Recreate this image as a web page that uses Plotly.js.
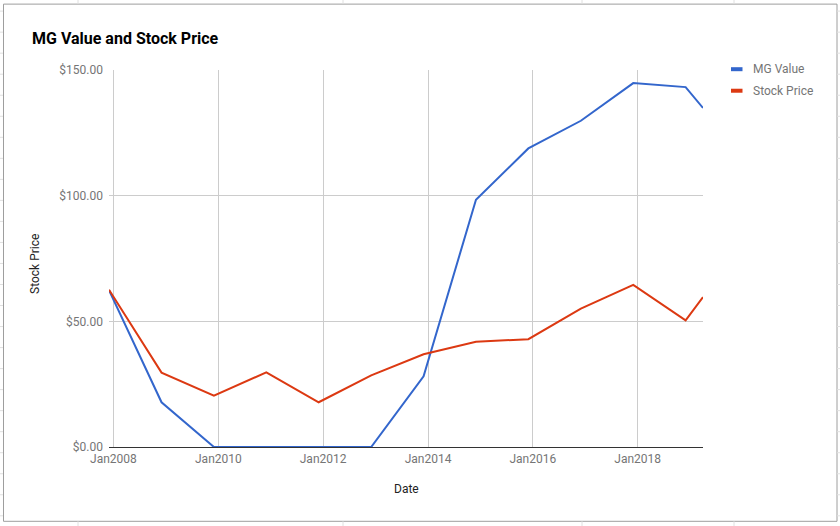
<!DOCTYPE html>
<html>
<head>
<meta charset="utf-8">
<script src="https://cdn.plot.ly/plotly-3.0.1.min.js"></script>
<style>
html,body{margin:0;padding:0;background:#fff;}
#chart{width:840px;height:526px;}
</style>
</head>
<body>
<div id="chart"></div>
<script>
// ---- data ----
const dates = ['2007-12-01','2008-12-01','2009-12-01','2010-12-01','2011-12-01','2012-12-01',
  '2013-12-01','2014-12-01','2015-12-01','2016-12-01','2017-12-01','2018-12-01','2019-04-01'];
const mgValue = [62.4, 17.8, 0, 0, 0, 0, 28.1, 98.4, 118.8, 129.8, 144.8, 143.2, 134.9];
const stockPrice = [62.6, 29.6, 20.4, 29.7, 17.8, 28.5, 36.9, 41.9, 42.9, 55.1, 64.5, 50.4, 59.6];
const seriesNames = ['MG Value', 'Stock Price'];
const seriesColors = ['#3366cc', '#dc3912'];
const yTickVals = [0, 50, 100, 150];
const yTickLabels = ['$0.00', '$50.00', '$100.00', '$150.00'];
const titleText = 'MG Value and Stock Price';
const xTitle = 'Date';
const yTitle = 'Stock Price';

// ---- geometry helpers (pixel -> paper) ----
const W = 840, H = 526;
const L = 109, R = 703, T = 70.3, B = 446.8;
const px = x => (x - L) / (R - L);
const py = y => (B - y) / (B - T);

const shapes = [];
// spreadsheet grid outside the chart frame
const sheetLine = '#e0e0e0';
[78, 343, 582, 734].forEach(x => {
  shapes.push({type:'line', xref:'paper', yref:'paper', x0:px(x), x1:px(x), y0:py(0), y1:py(4), line:{color:sheetLine, width:1}});
  shapes.push({type:'line', xref:'paper', yref:'paper', x0:px(x), x1:px(x), y0:py(521), y1:py(526), line:{color:sheetLine, width:1}});
});
for (let y = 11.5; y < H; y += 21) {
  shapes.push({type:'line', xref:'paper', yref:'paper', x0:px(0), x1:px(3), y0:py(y), y1:py(y), line:{color:sheetLine, width:1}});
  shapes.push({type:'line', xref:'paper', yref:'paper', x0:px(837), x1:px(840), y0:py(y), y1:py(y), line:{color:sheetLine, width:1}});
}
// chart frame
shapes.push({type:'rect', xref:'paper', yref:'paper', x0:px(3.5), x1:px(837), y0:py(4.5), y1:py(521), line:{color:'#9e9e9e', width:1}, layer:'below'});

// legend
const annotations = [];
const legY = [69.5, 91];
seriesNames.forEach((n, i) => {
  shapes.push({type:'line', xref:'paper', yref:'paper', x0:px(731), x1:px(742.5), y0:py(legY[i]), y1:py(legY[i]), line:{color:seriesColors[i], width:4}});
  annotations.push({xref:'paper', yref:'paper', x:px(751), y:py(legY[i]), xanchor:'left', yanchor:'middle', showarrow:false, text:n, font:{family:'Roboto', size:12, color:'#757575'}});
});
// title and axis titles
annotations.push({xref:'paper', yref:'paper', x:px(30), y:py(38.5), xanchor:'left', yanchor:'middle', showarrow:false, text:'<b>' + titleText + '</b>', font:{family:'Roboto', size:16, color:'#000'}});
annotations.push({xref:'paper', yref:'paper', x:px(406), y:py(489), xanchor:'center', yanchor:'middle', showarrow:false, text:xTitle, font:{family:'Roboto', size:12, color:'#222'}});
annotations.push({xref:'paper', yref:'paper', x:px(35), y:py(264), xanchor:'center', yanchor:'middle', textangle:-90, showarrow:false, text:yTitle, font:{family:'Roboto', size:12, color:'#222'}});

const traces = [mgValue, stockPrice].map((vals, i) => ({
  type:'scatter', mode:'lines', x:dates, y:vals, name:seriesNames[i],
  line:{color:seriesColors[i], width:2}, hoverinfo:'x+y'
}));

const layout = {
  width:W, height:H, autosize:false,
  margin:{l:L, r:W-R, t:T, b:H-B, pad:0},
  paper_bgcolor:'#fff', plot_bgcolor:'#fff',
  showlegend:false,
  font:{family:'Roboto', size:12, color:'#757575'},
  xaxis:{type:'date', range:[dates[0], dates[dates.length-1]], tick0:'2008-01-01', dtick:'M24', tickformat:'%b%Y',
    showgrid:true, gridcolor:'#cccccc', gridwidth:1, zeroline:false, showline:false, ticks:'', ticklabelstandoff:3,
    tickfont:{family:'Roboto', size:12, color:'#757575'}, automargin:false, fixedrange:true},
  yaxis:{range:[0,150], tickmode:'array', tickvals:yTickVals, ticktext:yTickLabels,
    showgrid:true, gridcolor:'#cccccc', gridwidth:1, zeroline:true, zerolinecolor:'#333333', zerolinewidth:1,
    showline:false, ticks:'', ticklabelstandoff:5, tickfont:{family:'Roboto', size:12, color:'#757575'}, automargin:false, fixedrange:true},
  shapes:shapes, annotations:annotations
};

Plotly.newPlot('chart', traces, layout, {displayModeBar:false, staticPlot:true});
</script>
</body>
</html>
